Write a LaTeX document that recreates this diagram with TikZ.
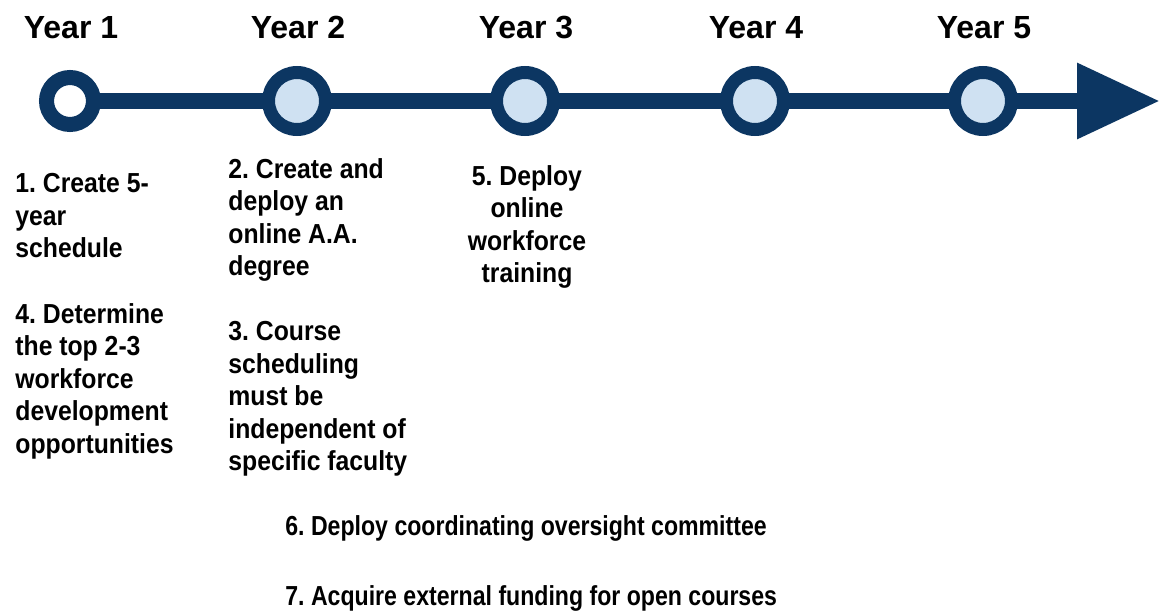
\documentclass[tikz,border=0pt]{standalone}
\usepackage{fontspec}
\setmainfont{Liberation Sans}
\newfontfamily\goalfamily{Liberation Sans}[FakeStretch=0.9]
\newfontfamily\longgoalfamily{Liberation Sans}[FakeStretch=0.84]
\usepackage{tikz}
\usetikzlibrary{calc,arrows.meta,backgrounds,positioning}
\definecolor{navy}{RGB}{12,54,98}
\definecolor{paleblue}{RGB}{207,225,242}
\newcommand\goalfont{\goalfamily\fontsize{13.75pt}{16.25pt}\selectfont\bfseries\frenchspacing}
\newcommand\yearfont{\fontsize{16pt}{19pt}\selectfont\bfseries}
\frenchspacing

\begin{document}
\begin{tikzpicture}[x=0.5pt,y=-0.5pt]

\tikzset{yearnode/.style={circle,draw=navy,fill=paleblue,line width=6.5pt,minimum size=28.5pt,inner sep=0pt},
firstnode/.style={yearnode,fill=white,line width=7.5pt,minimum size=23.5pt},
yearlabel/.style={font=\yearfont,anchor=base,inner sep=0pt},
goaltext/.style={font=\goalfont,align=left,inner sep=0pt,anchor=north west},
longgoal/.style={goaltext,font=\goalfont\longgoalfamily,anchor=base west},
timeline/.style={draw=navy,line width=8pt,-{Triangle[length=41.5pt,width=36pt]}}}

\useasboundingbox (0,0) rectangle (1162,611);

% Year circles
\node[firstnode] (y1) at (70,101) {};
\foreach \i/\x in {2/297,3/525,4/755,5/983} \node[yearnode] (y\i) at (\x,101) {};
\coordinate (tip) at (1160,101);

% Time line
\begin{scope}[on background layer]
\draw[timeline] (y1.center) -- (tip);
\end{scope}

% Year labels
\foreach \i in {1,2,3,4,5} \node[yearlabel] (lab\i) at ($(y\i) + (1,-63)$) {Year \i};

% Goals
\node[goaltext] (g1) at (15,173) {1. Create 5-\\year\\schedule};
\node[goaltext] (g4) at (15,303) {4. Determine\\the top 2-3\\workforce\\development\\opportunities};
\node[goaltext] (g2) at (228,158) {2. Create and\\deploy an\\online A.A.\\degree};
\node[goaltext] (g3) at (228,321) {3. Course\\scheduling\\must be\\independent of\\specific faculty};
\node[goaltext,align=center,anchor=north] (g5) at (527,165) {5. Deploy\\online\\workforce\\training};
\node[longgoal] (g6) at (285,535) {6. Deploy coordinating oversight committee};
\node[longgoal] (g7) at (285,605) {7. Acquire external funding for open courses};

\end{tikzpicture}
\end{document}
